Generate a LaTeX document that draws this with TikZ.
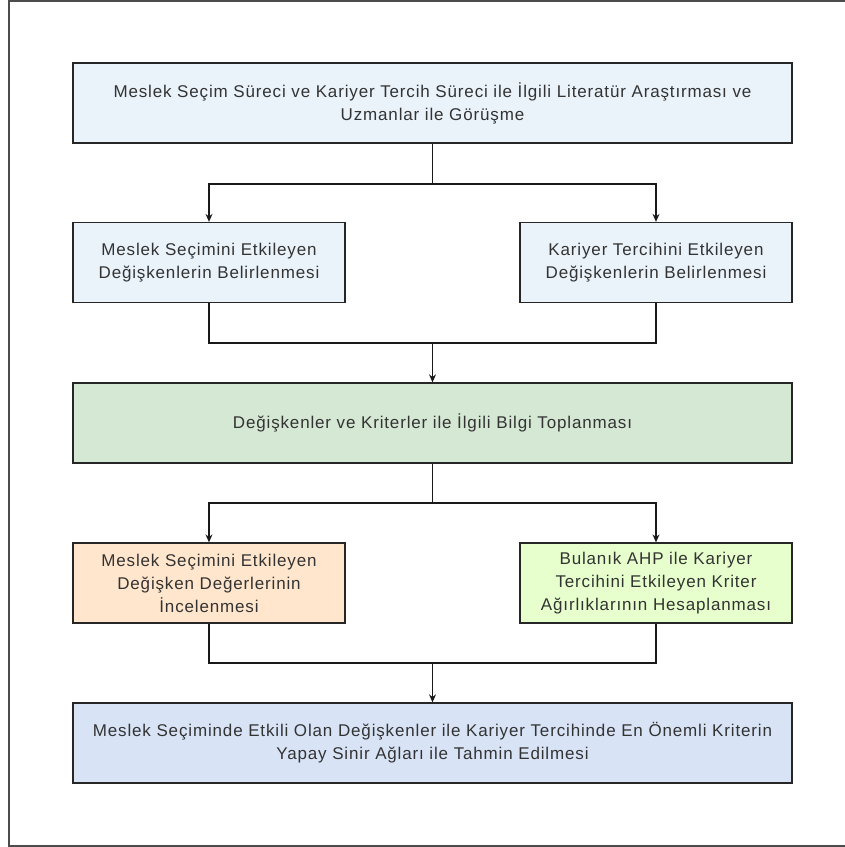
\documentclass[tikz,border=0pt]{standalone}
\usepackage{fontspec}
\setmainfont{Liberation Sans}[LetterSpace=5]
\usetikzlibrary{arrows.meta}

\definecolor{lightblue}{HTML}{EAF3FA}
\definecolor{boxgreen}{HTML}{D5E8D4}
\definecolor{boxorange}{HTML}{FFE6CC}
\definecolor{boxlime}{HTML}{E6FFCC}
\definecolor{boxblue}{HTML}{D8E4F6}

\begin{document}
\begin{tikzpicture}[x=1pt, y=-1pt, thick, >={Stealth[length=8pt,width=7pt]},
    box/.style={draw=black!85, line width=1.3pt, align=center, inner sep=0pt,
        minimum height=80pt, font=\fontsize{17}{23}\selectfont, text=black!80},
    wide/.style={box, minimum width=719pt},
    half/.style={box, minimum width=272pt},
    link/.style={line width=1.2pt, black!90}]
    \useasboundingbox (0,0) rectangle (845,847);
    % Outer frame
    \draw[line width=1.5pt, black!70] (850,1) -- (9,1) -- (9,846) -- (850,846);
    % Steps
    \node[wide, fill=lightblue] (lit) at (432.5,103)
        {Meslek Seçim Süreci ve Kariyer Tercih Süreci ile İlgili Literatür Araştırması ve\\Uzmanlar ile Görüşme};
    \node[half, fill=lightblue] (msec) at (209,262.5)
        {Meslek Seçimini Etkileyen\\Değişkenlerin Belirlenmesi};
    \node[half, fill=lightblue] (kter) at (656,262.5)
        {Kariyer Tercihini Etkileyen\\Değişkenlerin Belirlenmesi};
    \node[wide, fill=boxgreen] (bilgi) at (432.5,423)
        {Değişkenler ve Kriterler ile İlgili Bilgi Toplanması};
    \node[half, fill=boxorange] (deger) at (209,583)
        {Meslek Seçimini Etkileyen\\Değişken Değerlerinin\\İncelenmesi};
    \node[half, fill=boxlime] (ahp) at (656,583)
        {Bulanık AHP ile Kariyer\\Tercihini Etkileyen Kriter\\Ağırlıklarının Hesaplanması};
    \node[wide, fill=boxblue] (ysa) at (432.5,743)
        {Meslek Seçiminde Etkili Olan Değişkenler ile Kariyer Tercihinde En Önemli Kriterin\\Yapay Sinir Ağları ile Tahmin Edilmesi};
    % Junctions
    \coordinate (j1) at (432.5,184);
    \coordinate (j2) at (432.5,343);
    \coordinate (j3) at (432.5,503);
    \coordinate (j4) at (432.5,663);
    % Split after literature review
    \draw[link] (lit) -- (j1);
    \draw[link, ->] (j1) -| (msec);
    \draw[link, ->] (j1) -| (kter);
    % Merge into data collection
    \draw[link] (msec) |- (j2);
    \draw[link] (kter) |- (j2);
    \draw[link, ->] (j2) -- (bilgi);
    % Split again
    \draw[link] (bilgi) -- (j3);
    \draw[link, ->] (j3) -| (deger);
    \draw[link, ->] (j3) -| (ahp);
    % Merge into ANN estimation
    \draw[link] (deger) |- (j4);
    \draw[link] (ahp) |- (j4);
    \draw[link, ->] (j4) -- (ysa);
\end{tikzpicture}
\end{document}
